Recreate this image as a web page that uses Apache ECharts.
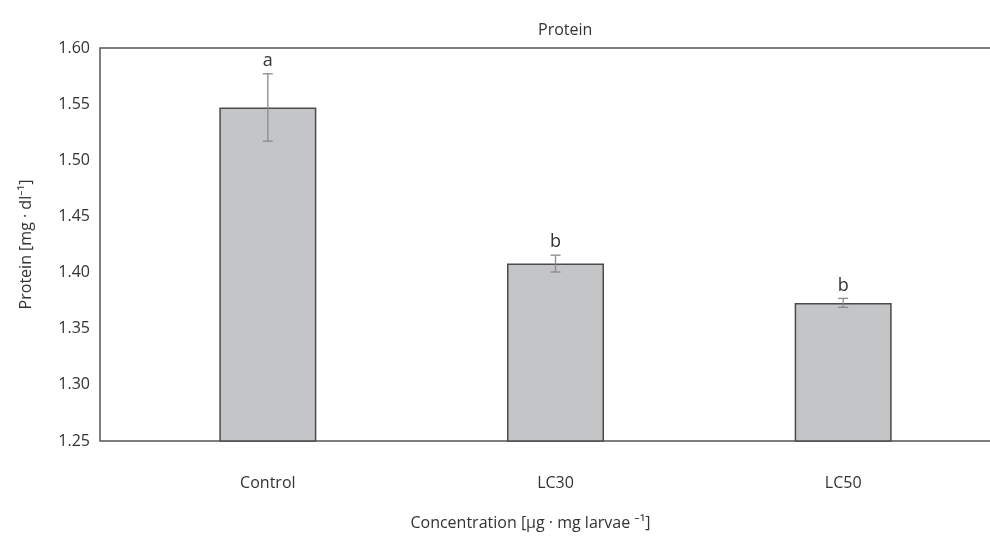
<!DOCTYPE html>
<html>
<head>
<meta charset="utf-8">
<script src="https://cdn.jsdelivr.net/npm/echarts@6/dist/echarts.min.js"></script>
<style>
  html, body { margin: 0; padding: 0; background: #fff; }
  #chart { width: 990px; height: 536px; }
</style>
</head>
<body>
<div id="chart"></div>
<script>
// values
var categories = ['Control', 'LC30', 'LC50'];
var means = [1.547, 1.408, 1.373];
var errors = [0.030, 0.0075, 0.004];
var letters = ['a', 'b', 'b'];
var yTicks = [1.25, 1.60, 0.05]; // min, max, step

var font = '"Open Sans", "Noto Sans", sans-serif';
var axisColor = '#555';
var textColor = '#333';

var errData = categories.map(function (c, i) {
  return [i, means[i] + errors[i], means[i] - errors[i], letters[i]];
});

var chart = echarts.init(document.getElementById('chart'));
var option = {
  animation: false,
  title: {
    text: 'Protein',
    left: 533,
    top: 17,
    textStyle: { fontFamily: font, fontSize: 16, fontWeight: 'normal', color: textColor }
  },
  grid: [
    // bars
    { left: 124, right: 3, top: 48, bottom: 95, outerBoundsMode: 'none' },
    // frame + y labels (right edge pushed past the canvas)
    { left: 100, width: 900, top: 48, bottom: 95, outerBoundsMode: 'none', show: true, borderColor: axisColor, borderWidth: 1.5, backgroundColor: 'transparent' }
  ],
  xAxis: [
    {
      type: 'category',
      gridIndex: 0,
      data: categories,
      axisLine: { show: false },
      axisTick: { show: false },
      axisLabel: { margin: 34, fontFamily: font, fontSize: 16, color: textColor },
      name: 'Concentration [\u03bcg \u00b7 mg larvae \u207b\u00b9]',
      nameLocation: 'middle',
      nameGap: 74,
      nameTextStyle: { fontFamily: font, fontSize: 16, color: textColor, padding: [0, 50, 0, 0] }
    },
    { type: 'value', gridIndex: 1, show: false, min: 0, max: 1 }
  ],
  yAxis: [
    { type: 'value', gridIndex: 0, show: false, min: yTicks[0], max: yTicks[1], interval: yTicks[2] },
    {
      type: 'value',
      gridIndex: 1,
      min: yTicks[0],
      max: yTicks[1],
      interval: yTicks[2],
      axisLine: { show: false },
      axisTick: { show: false },
      splitLine: { show: false },
      axisLabel: {
        margin: 10,
        fontFamily: font,
        fontSize: 16,
        color: textColor,
        formatter: function (v) { return v.toFixed(2); }
      },
      name: 'Protein [mg \u00b7 dl\u207b\u00b9]',
      nameLocation: 'middle',
      nameGap: 66,
      nameTextStyle: { fontFamily: font, fontSize: 16, color: textColor }
    }
  ],
  series: [
    {
      type: 'bar',
      xAxisIndex: 0,
      yAxisIndex: 0,
      data: means,
      barWidth: 97,
      itemStyle: { color: '#c4c5c7', borderColor: '#4a4a4a', borderWidth: 1.5 }
    },
    {
      type: 'custom',
      xAxisIndex: 0,
      yAxisIndex: 0,
      data: errData,
      z: 5,
      renderItem: function (params, api) {
        var hi = api.coord([api.value(0), api.value(1)]);
        var lo = api.coord([api.value(0), api.value(2)]);
        var w = 5;
        var st = { stroke: '#8a8a8a', lineWidth: 1.3 };
        return {
          type: 'group',
          children: [
            { type: 'line', shape: { x1: hi[0], y1: hi[1], x2: lo[0], y2: lo[1] }, style: st },
            { type: 'line', shape: { x1: hi[0] - w, y1: hi[1], x2: hi[0] + w, y2: hi[1] }, style: st },
            { type: 'line', shape: { x1: lo[0] - w, y1: lo[1], x2: lo[0] + w, y2: lo[1] }, style: st },
            {
              type: 'text',
              x: hi[0],
              y: hi[1] - 4,
              style: {
                text: api.value(3),
                textAlign: 'center',
                textVerticalAlign: 'bottom',
                fontFamily: font,
                fontSize: 18,
                fill: textColor
              }
            }
          ]
        };
      }
    }
  ]
};
chart.setOption(option);
</script>
</body>
</html>
